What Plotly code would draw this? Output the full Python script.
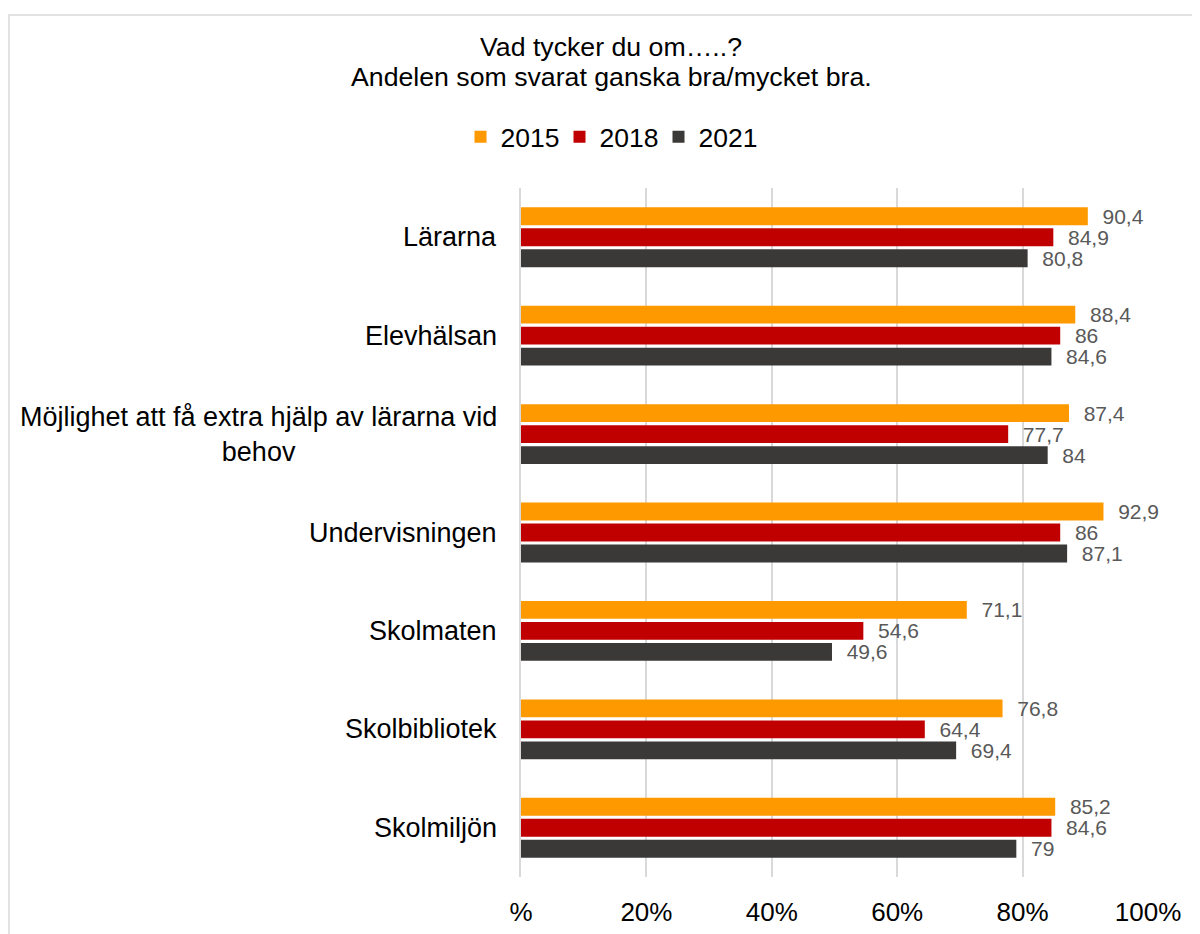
import plotly.graph_objects as go

categories = ["Lärarna", "Elevhälsan", "Möjlighet att få extra hjälp av lärarna vid<br>behov",
              "Undervisningen", "Skolmaten", "Skolbibliotek", "Skolmiljön"]
years = ["2015", "2018", "2021"]
v2015 = [90.4, 88.4, 87.4, 92.9, 71.1, 76.8, 85.2]
v2018 = [84.9, 86, 77.7, 86, 54.6, 64.4, 84.6]
v2021 = [80.8, 84.6, 84, 87.1, 49.6, 69.4, 79]
colors = ["#FF9900", "#C00000", "#3B3838"]
tick_vals = [0, 20, 40, 60, 80, 100]
tick_text = ["%", "20%", "40%", "60%", "80%", "100%"]
title_lines = ["Vad tycker du om…..?", "Andelen som svarat ganska bra/mycket bra."]

FONT = "Liberation Sans, Arial, sans-serif"

# the html page has an 8px body margin
OX, OY = 8, 8
FW, FH = 1200 - OX, 934 - OY
# plot-area geometry in screen pixels
L, R, T, B = 521, 1148, 188, 877
W, H = R - L, B - T
def px_x(px): return (px - L) / W
def px_y(py): return (B - py) / H
def cx(px): return (px - OX) / FW
def cy(py): return 1 - (py - OY) / FH

def fmt(v):
    return ("%g" % v).replace(".", ",")

fig = go.Figure()
for name, vals, col in zip(years, [v2015, v2018, v2021], colors):
    fig.add_trace(go.Bar(
        y=categories, x=vals, name=name, orientation="h",
        marker=dict(color=col, line=dict(width=0)),
        text=["\u00a0\u00a0" + fmt(v) for v in vals],
        textposition="outside", cliponaxis=False, constraintext="none",
        textfont=dict(size=21, color="#595959", family=FONT),
        hoverinfo="skip",
    ))

annotations = []
for c in categories:
    annotations.append(dict(
        x=0, xref="paper", y=c, yref="y", xanchor="right", yanchor="middle",
        xshift=-22, text=c, showarrow=False, align="center",
        font=dict(size=27, color="#000000", family=FONT)))
for t, py in zip(title_lines, [47, 77]):
    annotations.append(dict(
        x=px_x(611), xref="paper", y=px_y(py), yref="paper",
        xanchor="center", yanchor="middle", text=t, showarrow=False,
        font=dict(size=26.7, color="#000000", family=FONT)))

fig.update_layout(
    width=FW, height=FH, autosize=False,
    margin=dict(l=L - OX, r=FW - (R - OX), t=T - OY, b=FH - (B - OY), pad=0),
    paper_bgcolor="white", plot_bgcolor="white",
    font=dict(family=FONT, color="#000000"),
    barmode="group", bargap=0.36, bargroupgap=0.15,
    showlegend=True,
    legend=dict(orientation="h", xref="container", yref="container",
                x=cx(609), xanchor="center", y=cy(137), yanchor="middle",
                traceorder="normal",
                font=dict(size=26.5, color="#000000", family=FONT),
                itemwidth=30, entrywidth=54, bgcolor="rgba(0,0,0,0)"),
    xaxis=dict(range=[0, 100], tickvals=tick_vals, ticktext=tick_text,
               showgrid=True, gridcolor="#D9D9D9", gridwidth=1.5,
               zeroline=False, showline=False, automargin=False,
               ticks="outside", ticklen=12, tickcolor="rgba(0,0,0,0)",
               tickfont=dict(size=26, color="#000000", family=FONT)),
    yaxis=dict(type="category", autorange="reversed", showticklabels=False,
               showgrid=False, zeroline=False, showline=True, automargin=False,
               linecolor="#D9D9D9", linewidth=1.5, ticks=""),
    annotations=annotations,
    shapes=[dict(type="rect", xref="paper", yref="paper",
                 x0=px_x(9), x1=px_x(1215), y0=px_y(960), y1=px_y(15),
                 line=dict(color="#D9D9D9", width=1.5), fillcolor="rgba(0,0,0,0)",
                 layer="below")],
)

fig.write_html("out.html")
